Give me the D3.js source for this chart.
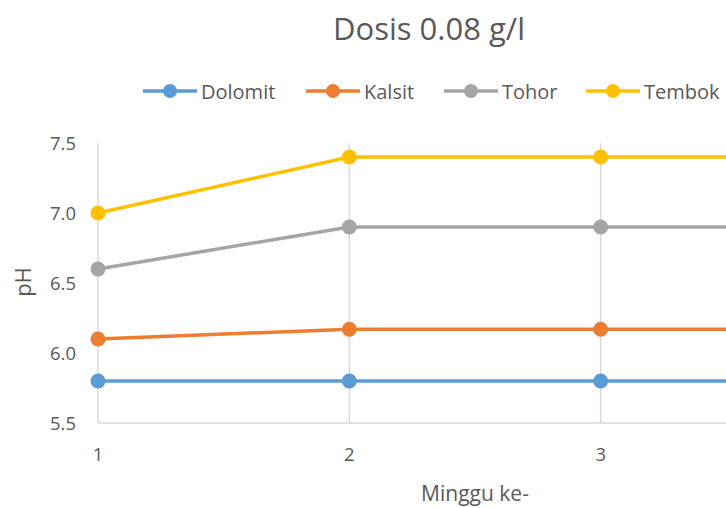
<!DOCTYPE html>
<html><head><meta charset="utf-8">
<script src="https://cdn.jsdelivr.net/npm/d3@7"></script>
<style>html,body{margin:0;padding:0;background:#fff;overflow:hidden}</style>
</head><body>
<script>
const weeks = [1, 2, 3, 4];
const xTickLabels = [1, 2, 3];
const seriesNames = ["Dolomit", "Kalsit", "Tohor", "Tembok"];
const dolomit = [5.8, 5.8, 5.8, 5.8];
const kalsit = [6.1, 6.17, 6.17, 6.17];
const tohor = [6.6, 6.9, 6.9, 6.9];
const tembok = [7.0, 7.4, 7.4, 7.4];
const colors = ["#5B9BD5", "#ED7D31", "#A5A5A5", "#FFC000"];
const yTicks = [5.5, 6.0, 6.5, 7.0, 7.5];
const title = "Dosis 0.08 g/l";
const xTitle = "Minggu ke-";
const yTitle = "pH";

const W = 726, H = 508;
const font = "'Open Sans', sans-serif";
const txt = "#595959";
const svg = d3.select("body").append("svg").attr("width", W).attr("height", H);

const x = d3.scaleLinear().domain([1, 4]).range([98, 852]);
const y = d3.scaleLinear().domain([5.5, 7.5]).range([423, 143]);

// vertical gridlines
svg.append("g").selectAll("line").data(weeks).join("line")
  .attr("x1", d => x(d)).attr("x2", d => x(d))
  .attr("y1", y(7.5)).attr("y2", y(5.5))
  .attr("stroke", "#d9d9d9").attr("stroke-width", 1.5);

// x axis line
svg.append("line").attr("x1", x(1)).attr("x2", W).attr("y1", y(5.5)).attr("y2", y(5.5))
  .attr("stroke", "#d9d9d9").attr("stroke-width", 1.5);

// y tick labels
svg.append("g").selectAll("text").data(yTicks).join("text")
  .attr("x", 76).attr("y", d => y(d) + 6.5)
  .attr("text-anchor", "end").attr("font-family", font).attr("font-size", 18.5)
  .attr("fill", txt).text(d => d3.format(".1f")(d));

// x tick labels
svg.append("g").selectAll("text").data(xTickLabels).join("text")
  .attr("x", d => x(d)).attr("y", 461)
  .attr("text-anchor", "middle").attr("font-family", font).attr("font-size", 18.5)
  .attr("fill", txt).text(d => d);

// series
const data = [dolomit, kalsit, tohor, tembok];
const line = d3.line().x((d, i) => x(weeks[i])).y(d => y(d));
data.forEach((vals, s) => {
  const g = svg.append("g");
  g.append("path").datum(vals).attr("d", line).attr("fill", "none")
    .attr("stroke", colors[s]).attr("stroke-width", 3.5).attr("stroke-linejoin", "round");
  g.selectAll("circle").data(vals).join("circle")
    .attr("cx", (d, i) => x(weeks[i])).attr("cy", d => y(d)).attr("r", 7.5)
    .attr("fill", colors[s]);
});

// title
svg.append("text").attr("x", 429).attr("y", 40).attr("text-anchor", "middle")
  .attr("font-family", font).attr("font-size", 31).attr("fill", txt).text(title);

// axis titles
svg.append("text").attr("x", 475).attr("y", 501).attr("text-anchor", "middle")
  .attr("font-family", font).attr("font-size", 21).attr("fill", txt).text(xTitle);
svg.append("text").attr("transform", "translate(31,282) rotate(-90)").attr("text-anchor", "middle")
  .attr("font-family", font).attr("font-size", 22).attr("fill", txt).text(yTitle);

// legend
const legX = [143, 306, 444, 586];
const legY = 91;
seriesNames.forEach((n, s) => {
  const g = svg.append("g").attr("transform", `translate(${legX[s]},${legY})`);
  g.append("line").attr("x1", 0).attr("x2", 54).attr("y1", 0).attr("y2", 0)
    .attr("stroke", colors[s]).attr("stroke-width", 3.5);
  g.append("circle").attr("cx", 27).attr("cy", 0).attr("r", 7).attr("fill", colors[s]);
  g.append("text").attr("x", 58).attr("y", 7.5).attr("font-family", font)
    .attr("font-size", 20).attr("fill", txt).text(n);
});
</script>
</body></html>
